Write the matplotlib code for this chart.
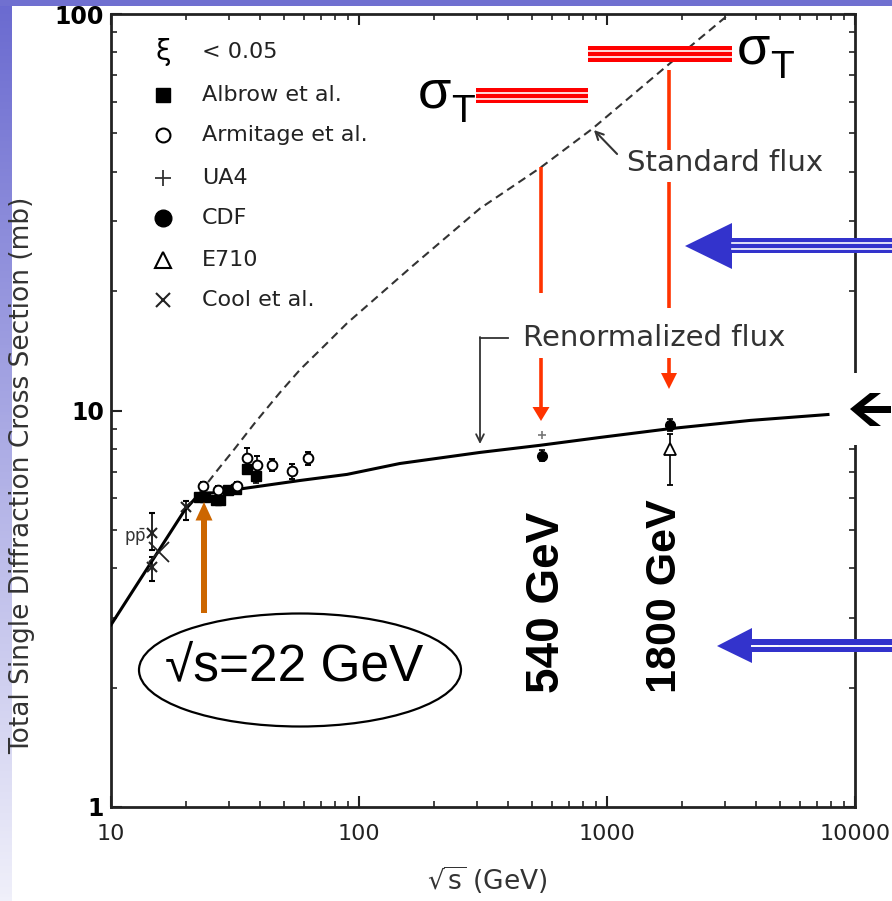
import numpy as np
import matplotlib
matplotlib.use('Agg')
import matplotlib.pyplot as plt
from matplotlib.lines import Line2D
from matplotlib.patches import Polygon, Ellipse
from matplotlib.transforms import Affine2D

plt.rcParams['font.family'] = ['DejaVu Sans']
plt.rcParams['mathtext.fontset'] = 'dejavusans'

W, H = 892, 901

# ── Curves ────────────────────────────────────────────────────────
std_s   = [22.8, 27, 31, 38, 48, 58, 69.6, 89.5, 165, 307, 537, 871, 1845, 3076]
std_sig = [6.2, 7.1, 7.9, 9.3, 11.1, 12.7, 14.2, 16.6, 23.2, 32.3, 40.9, 51.3, 76.2, 99.4]

ren_s   = [10, 19.8, 22.8, 25.8, 57.8, 89.5, 146, 308, 537, 935, 1795, 3776, 7780]
ren_sig = [2.88, 5.6, 6.18, 6.2, 6.66, 6.9, 7.35, 7.84, 8.17, 8.55, 9.0, 9.44, 9.77]

# ── Data points ───────────────────────────────────────────────────
albrow_s   = [22.6, 24.0, 26.4, 27.4, 29.6, 31.8, 35.2, 38.6]
albrow_sig = [6.05, 6.05, 5.95, 5.95, 6.3, 6.35, 7.1, 6.85]
albrow_err = [0.15, 0.15, 0.15, 0.15, 0.15, 0.15, 0.2, 0.3]

arm_s   = [23.5, 27.0, 32.2, 35.3, 38.8, 44.6, 53.7, 62.3]
arm_sig = [6.45, 6.3, 6.45, 7.57, 7.27, 7.3, 7.03, 7.57]
arm_err = [0.15, 0.15, 0.15, 0.45, 0.4, 0.25, 0.3, 0.3]

cool_s   = [14.6, 14.6, 20.0]
cool_sig = [4.9, 4.02, 5.7]
cool_lo  = [0.45, 0.3, 0.4]
cool_hi  = [0.6, 0.25, 0.2]

ppbar_s, ppbar_sig = [15.6], [4.39]

ua4_s, ua4_sig = [546], [8.65]

cdf_s   = [546, 1800]
cdf_sig = [7.7, 9.2]
cdf_err = [0.25, 0.3]

e710_s, e710_sig = [1800], [8.0]
e710_lo, e710_hi = [1.5], [0.7]

# ── Figure ────────────────────────────────────────────────────────
fig = plt.figure(figsize=(W / 100, H / 100), dpi=100)
fig.patch.set_facecolor('white')
px = Affine2D().scale(1.0 / W, -1.0 / H).translate(0, 1) + fig.transFigure

# slide background bands
grad = fig.add_axes([0, 0, 12 / W, 1])
g = np.linspace(0, 1, 256)[:, None]
top_c = np.array([106, 106, 208]) / 255
bot_c = np.array([240, 240, 250]) / 255
grad.imshow((top_c + (bot_c - top_c) * g[..., None]), aspect='auto')
grad.axis('off')
fig.add_artist(Polygon([(0, 0), (W, 0), (W, 6), (0, 6)], closed=True,
                       transform=px, color='#7070d0', lw=0))

ax = fig.add_axes([111 / W, 94 / H, 744 / W, 793 / H])
ax.set_xscale('log')
ax.set_yscale('log')
ax.set_xlim(10, 10000)
ax.set_ylim(1, 100)

ax.plot(ren_s, ren_sig, color='black', lw=2.2, zorder=3)
ax.plot(std_s, std_sig, color='#333333', lw=1.5, dashes=(4, 2.5), zorder=3)

ekw = dict(capsize=2.5, elinewidth=1.2, capthick=1.2, ecolor='black', zorder=4)
ax.errorbar(albrow_s, albrow_sig, yerr=albrow_err, fmt='s', ms=6.5,
            color='black', **ekw)
ax.errorbar(arm_s, arm_sig, yerr=arm_err, fmt='o', ms=7, mfc='white',
            mec='black', mew=1.4, **ekw)
ax.errorbar(cool_s, cool_sig, yerr=[cool_lo, cool_hi], fmt='x', ms=7,
            color='#222222', mew=1.5, **ekw)
ax.plot(ppbar_s, ppbar_sig, marker='x', ms=14, mew=1.3, color='#222222',
        ls='none', zorder=4)
ax.plot(ua4_s, ua4_sig, marker='+', ms=6, mew=1.2, color='#777777',
        ls='none', zorder=4)
ax.errorbar(cdf_s, cdf_sig, yerr=cdf_err, fmt='o', ms=7, color='black', **ekw)
ax.errorbar(e710_s, e710_sig, yerr=[e710_lo, e710_hi], fmt='^', ms=9,
            mfc='white', mec='black', mew=1.3, **ekw)

ax.set_xticks([10, 100, 1000, 10000])
ax.set_xticklabels(['10', '100', '1000', '10000'], fontsize=16, color='#222')
ax.set_yticks([1, 10, 100])
ax.set_yticklabels(['1', '10', '100'], fontsize=17, fontweight='bold')
ax.tick_params(which='both', direction='in', top=True, right=True, color='#222')
ax.tick_params(which='major', length=8, width=1.5)
ax.tick_params(axis='x', which='major', pad=12)
ax.tick_params(axis='y', which='major', pad=5)
ax.tick_params(which='minor', length=4, width=1.2, labelleft=False, labelbottom=False)
for sp in ax.spines.values():
    sp.set_linewidth(2)
    sp.set_color('#222')

# axis titles
fig.text(22, 475, 'Total Single Diffraction Cross Section (mb)', transform=px,
         rotation=90, ha='center', va='center', fontsize=19, color='#333')
fig.text(487, 880, r'$\sqrt{\mathrm{s}}$ (GeV)', transform=px,
         ha='center', va='center', fontsize=19, color='#333')

# ── Legend (drawn by hand) ────────────────────────────────────────
fig.text(163, 52, 'ξ', transform=px, ha='center', va='center', fontsize=20)
fig.text(202, 52, '< 0.05', transform=px, ha='left', va='center', fontsize=16, color='#222')
leg = [('Albrow et al.', dict(marker='s', ms=10, mfc='black', mec='black')),
       ('Armitage et al.', dict(marker='o', ms=10, mfc='white', mec='black', mew=1.5)),
       ('UA4', dict(marker='+', ms=11, mec='#333', mew=1.3)),
       ('CDF', dict(marker='o', ms=12, mfc='black', mec='black')),
       ('E710', dict(marker='^', ms=11, mfc='white', mec='black', mew=1.5)),
       ('Cool et al.', dict(marker='x', ms=10, mec='#222', mew=1.5))]
leg_y = [95, 135, 178, 218, 260, 300]
for (lab, mk), yy in zip(leg, leg_y):
    fig.add_artist(Line2D([163], [yy], transform=px, ls='none', **mk))
    fig.text(202, yy, lab, transform=px, ha='left', va='center', fontsize=16, color='#222')

fig.text(135, 537, r'$\mathrm{p\bar{p}}$', transform=px, ha='center', va='center',
         fontsize=12, color='#333')

# flux labels
fig.text(627, 163, 'Standard flux', transform=px, ha='left', va='center',
         fontsize=21, color='#333')
ax.annotate('', xy=(592, 128), xytext=(619, 156), xycoords=px, textcoords=px,
            arrowprops=dict(arrowstyle='->', lw=1.5, color='#333', mutation_scale=14))
fig.text(523, 338, 'Renormalized flux', transform=px, ha='left', va='center',
         fontsize=21, color='#333')
fig.add_artist(Line2D([508, 480], [338, 338], transform=px, lw=1.3, color='#333'))
ax.annotate('', xy=(480, 444), xytext=(480, 337), xycoords=px, textcoords=px,
            arrowprops=dict(arrowstyle='->', lw=1.3, color='#333', mutation_scale=14,
                            shrinkA=0, shrinkB=0))


# ── Slide overlays ────────────────────────────────────────────────
def seg(x0, y0, x1, y1, **kw):
    fig.add_artist(Line2D([x0, x1], [y0, y1], transform=px, **kw))


def poly(pts, color):
    fig.add_artist(Polygon(pts, closed=True, transform=px, color=color, lw=0))


def rect(x0, y0, x1, y1, color):
    poly([(x0, y0), (x1, y0), (x1, y1), (x0, y1)], color)


RED = '#ff3300'
seg(541, 167, 541, 293, color=RED, lw=2.6, solid_capstyle='butt')
seg(541, 358, 541, 408, color=RED, lw=2.6, solid_capstyle='butt')
poly([(532.5, 407), (549.5, 407), (541, 421)], RED)
seg(669, 70, 669, 150, color=RED, lw=2.6, solid_capstyle='butt')
seg(669, 182, 669, 308, color=RED, lw=2.6, solid_capstyle='butt')
seg(669, 358, 669, 374, color=RED, lw=2.6, solid_capstyle='butt')
poly([(661, 373), (677, 373), (669, 389)], RED)

# sigma_T bands
rect(588, 46, 732, 62, '#ff0000')
seg(588, 50.5, 732, 50.5, color='white', lw=1.2)
seg(588, 57.3, 732, 57.3, color='white', lw=1.2)
rect(476, 88, 588, 103, '#ff0000')
seg(476, 92.7, 588, 92.7, color='white', lw=1.2)
seg(476, 99, 588, 99, color='white', lw=1.2)
for sx, sy in [(418, 107), (737, 63)]:
    fig.text(sx, sy, 'σ', transform=px, ha='left', va='baseline', fontsize=39,
             family='Liberation Sans')
    fig.text(sx + 33, sy + 15, 'T', transform=px, ha='left', va='baseline',
             fontsize=28, family='Liberation Sans')

# blue arrows
BLUE = '#3333cc'
poly([(685, 246), (732, 223), (732, 269)], BLUE)
rect(731, 238.3, 892, 253.3, BLUE)
seg(732, 243.3, 892, 243.3, color='white', lw=1.2)
seg(732, 249.0, 892, 249.0, color='white', lw=1.2)
poly([(717, 646), (752, 628), (752, 663)], BLUE)
rect(751, 639.3, 892, 651.7, BLUE)
seg(752, 646.2, 892, 646.2, color='white', lw=1.4)

# orange arrow and ellipse
ORANGE = '#cc6600'
rect(201, 520, 207, 613, ORANGE)
poly([(195.5, 520.5), (212.5, 520.5), (204, 502)], ORANGE)
fig.add_artist(Ellipse((300, 670), 322, 113, transform=px, fill=False,
                       ec='black', lw=1.6))
fig.text(294, 667, '√s=22 GeV', transform=px, ha='center', va='center',
         fontsize=37, family='Liberation Sans')

# energy labels
for ex, lab, fs in [(547, '540 GeV', 33), (665, '1800 GeV', 31)]:
    fig.text(ex, 693, lab, transform=px, rotation=90, ha='center', va='bottom',
             fontsize=fs, fontweight='bold', family='Liberation Sans')

# black arrow on the right edge
rect(832, 373, 892, 445, 'white')
poly([(850, 409), (870, 393), (881, 393), (864, 406), (891, 406), (891, 413),
      (864, 413), (881, 426), (870, 426)], 'black')

fig.savefig('out.png', dpi=100, facecolor='white')
